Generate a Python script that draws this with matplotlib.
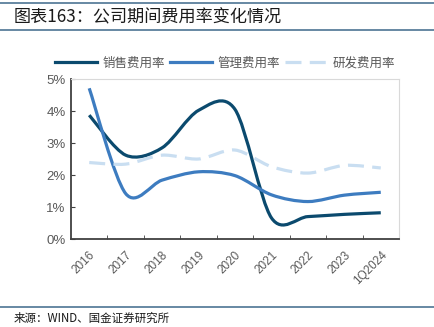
import numpy as np
import matplotlib.pyplot as plt
from matplotlib.path import Path
from matplotlib.patches import PathPatch
from matplotlib.lines import Line2D
from matplotlib.ticker import FuncFormatter, FixedLocator

plt.rcParams['font.family'] = ['Noto Sans CJK SC', 'DejaVu Sans']

# data (%)
categories = ["2016", "2017", "2018", "2019", "2020", "2021", "2022", "2023", "1Q2024"]
sales_rate = [3.87, 2.62, 2.85, 4.02, 4.05, 0.66, 0.70, 0.77, 0.82]
admin_rate = [4.71, 1.42, 1.84, 2.10, 1.98, 1.38, 1.17, 1.37, 1.46]
rd_rate = [2.39, 2.34, 2.62, 2.50, 2.78, 2.26, 2.06, 2.30, 2.22]
series_names = ["销售费用率", "管理费用率", "研发费用率"]

DARK = "#0b4a6e"
MID = "#3d7cc0"
LIGHT = "#c9def1"


def smooth_path(xs, ys, k=1 / 6.5):
    """Excel-like smoothed line: cubic bezier through each data point."""
    pts = np.column_stack([xs, ys]).astype(float)
    n = len(pts)
    verts = [pts[0]]
    codes = [Path.MOVETO]
    for i in range(n - 1):
        p0 = pts[i - 1] if i > 0 else pts[i]
        p1 = pts[i]
        p2 = pts[i + 1]
        p3 = pts[i + 2] if i + 2 < n else pts[i + 1]
        c1 = p1 + (p2 - p0) * k
        c2 = p2 - (p3 - p1) * k
        verts += [c1, c2, p2]
        codes += [Path.CURVE4] * 3
    return Path(verts, codes)


fig = plt.figure(figsize=(4.35, 3.27), dpi=100)
ax = fig.add_axes([71 / 435, 1 - 239 / 327, 328 / 435, 160 / 327])

x = np.arange(len(categories))
styles = [
    (sales_rate, DARK, "-"),
    (admin_rate, MID, "-"),
    (rd_rate, LIGHT, (0, (5, 2.6))),
]
handles = []
for (vals, color, ls), name in zip(styles, series_names):
    patch = PathPatch(smooth_path(x, vals), fill=False, edgecolor=color,
                      lw=2.3, linestyle=ls, capstyle="butt")
    ax.add_patch(patch)
    handles.append(Line2D([], [], color=color, lw=2.3, linestyle=ls, label=name))

ax.set_xlim(-0.5, len(categories) - 0.5)
ax.set_ylim(0, 5)
ax.yaxis.set_major_locator(FixedLocator([0, 1, 2, 3, 4, 5]))
ax.yaxis.set_major_formatter(FuncFormatter(lambda v, p: f"{v:.0f}%"))
ax.set_xticks(x)
ax.set_xticklabels(categories, rotation=45, ha="right", rotation_mode="anchor")
ax.set_xticks(np.arange(0.5, len(categories) - 0.5, 1), minor=True)

ax.tick_params(axis="x", which="major", length=0, pad=7, labelsize=8.5,
               labelcolor="#595959")
ax.tick_params(axis="x", which="minor", direction="in", length=3, color="#404040")
ax.tick_params(axis="y", direction="in", length=3, color="#404040", labelsize=9.5,
               labelcolor="#595959", pad=4)
for lab in ax.get_xticklabels() + ax.get_yticklabels():
    lab.set_family(["Liberation Sans", "DejaVu Sans"])

for side in ("left", "bottom"):
    ax.spines[side].set_color("#404040")
    ax.spines[side].set_linewidth(1.3)
for side in ("top", "right"):
    ax.spines[side].set_color("#d9d9d9")
    ax.spines[side].set_linewidth(0.8)

fig.legend(handles=handles, loc="center", bbox_to_anchor=(0.517, 1 - 63 / 327),
           ncol=3, frameon=False, fontsize=9, handlelength=3.4, handletextpad=0.4,
           columnspacing=0.4, labelcolor="#595959")

# header / footer
for yy in (3, 30, 307):
    fig.add_artist(Line2D([0.0, 1.0], [1 - yy / 327] * 2, color="#4d7493", lw=1.2))
fig.text(14 / 435, 1 - 17 / 327, "图表163：公司期间费用率变化情况", fontsize=12.3,
         va="center", ha="left", color="#1a1a1a", fontweight="medium")
fig.text(14 / 435, 1 - 318 / 327, "来源：WIND、国金证券研究所", fontsize=8.3,
         va="center", ha="left", color="#1a1a1a")

fig.savefig("out.png", dpi=100)
